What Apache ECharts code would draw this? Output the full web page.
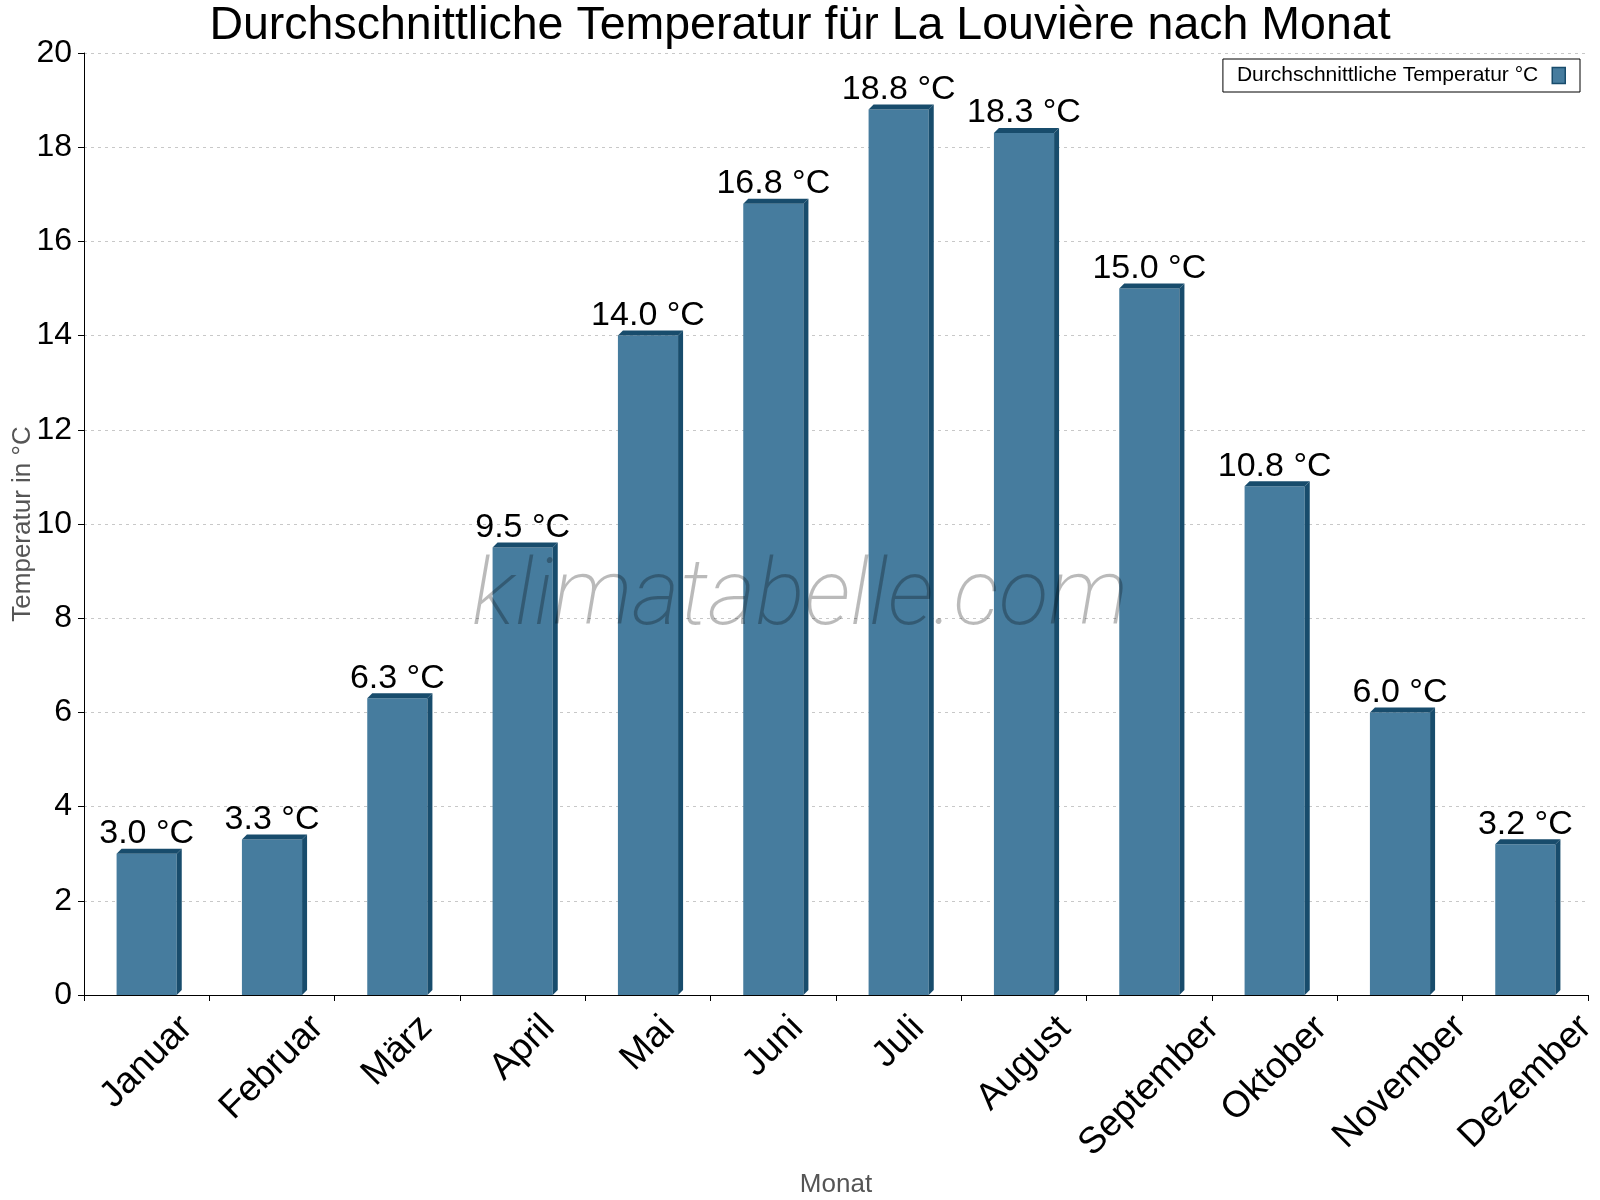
<!DOCTYPE html>
<html>
<head>
<meta charset="utf-8">
<script src="https://cdn.jsdelivr.net/npm/echarts@6/dist/echarts.min.js"></script>
<style>
  html, body { margin: 0; padding: 0; background: #ffffff; }
  #chart { width: 1600px; height: 1200px; }
</style>
</head>
<body>
<div id="chart"></div>
<script>
const chartTitle = 'Durchschnittliche Temperatur für La Louvière nach Monat';
const seriesName = 'Durchschnittliche Temperatur °C';
const months = ['Januar', 'Februar', 'März', 'April', 'Mai', 'Juni', 'Juli', 'August', 'September', 'Oktober', 'November', 'Dezember'];
const temperatures = [3.0, 3.3, 6.3, 9.5, 14.0, 16.8, 18.8, 18.3, 15.0, 10.8, 6.0, 3.2];
const yTicks = [0, 2, 4, 6, 8, 10, 12, 14, 16, 18, 20];
const xAxisName = 'Monat';
const yAxisName = 'Temperatur in °C';
const watermark = 'klimatabelle.com';

const FONT = '"Liberation Sans", Arial, sans-serif';
const FRONT = '#467c9e';
const DARK = '#184c6c';
const DEPTH = 5;
const XLABEL_SIZE = 37;

// measure label widths so each rotated label is centred under its category
const cv = document.createElement('canvas').getContext('2d');
cv.font = XLABEL_SIZE + 'px "Liberation Sans", Arial, sans-serif';
const xData = months.map(m => {
  const L = cv.measureText(m).width;
  const h = XLABEL_SIZE;
  const pt = Math.max(0, Math.round((L - h) / 4));
  const pr = Math.round(2 * pt + h);
  return { value: m, textStyle: { align: 'center', verticalAlign: 'top', padding: [pt, pr, 0, 0] } };
});

const chart = echarts.init(document.getElementById('chart'), null, { renderer: 'canvas' });

const option = {
  animation: false,
  backgroundColor: '#ffffff',
  title: {
    text: chartTitle,
    left: 'center',
    top: -2,
    textStyle: { fontFamily: FONT, fontSize: 46.5, fontWeight: 'normal', color: '#000' }
  },
  legend: {
    right: 20,
    top: 59,
    align: 'right',
    padding: [6, 14],
    borderColor: '#000',
    borderWidth: 1,
    itemWidth: 13,
    itemHeight: 16,
    textStyle: { fontFamily: FONT, fontSize: 21, color: '#000', padding: [0, 9, 0, 0] },
    data: [{ name: seriesName, icon: 'rect', itemStyle: { color: FRONT, borderColor: DARK, borderWidth: 1.5 } }]
  },
  grid: { left: 84, right: 12, top: 53, bottom: 205, containLabel: false, outerBoundsMode: 'none' },
  xAxis: {
    type: 'category',
    data: xData,
    boundaryGap: true,
    name: xAxisName,
    nameLocation: 'middle',
    nameGap: 177,
    nameMoveOverlap: false,
    nameTextStyle: { fontFamily: FONT, fontSize: 26, color: '#555' },
    axisLine: { lineStyle: { color: '#000', width: 1 } },
    axisTick: { show: true, alignWithLabel: false, length: 6, lineStyle: { color: '#000' } },
    axisLabel: {
      interval: 0,
      rotate: 45,
      align: 'center',
      verticalAlign: 'top',
      margin: 14,
      fontFamily: FONT,
      fontSize: XLABEL_SIZE,
      color: '#000',
      hideOverlap: false
    },
    splitLine: { show: false }
  },
  yAxis: {
    type: 'value',
    min: yTicks[0],
    max: yTicks[yTicks.length - 1],
    interval: yTicks[1] - yTicks[0],
    name: yAxisName,
    nameLocation: 'middle',
    nameGap: 48,
    nameMoveOverlap: false,
    nameTextStyle: { fontFamily: FONT, fontSize: 26, color: '#555' },
    axisLine: { show: true, lineStyle: { color: '#000', width: 1 } },
    axisTick: { show: true, length: 6, lineStyle: { color: '#000' } },
    axisLabel: { margin: 12, fontFamily: FONT, fontSize: 32, color: '#000' },
    splitLine: { show: true, lineStyle: { color: '#c8c8c8', type: [3, 4], width: 1 } }
  },
  graphic: [{
    type: 'text',
    left: 'center',
    top: 555,
    z: 100,
    silent: true,
    style: {
      text: watermark,
      font: 'italic 200 92px Roboto, "Open Sans", sans-serif',
      fill: 'rgba(0,0,0,0.27)'
    }
  }],
  series: [{
    name: seriesName,
    type: 'custom',
    itemStyle: { color: FRONT },
    encode: { x: 0, y: 1 },
    data: temperatures.map((v, i) => [i, v]),
    renderItem: function (params, api) {
      const cat = api.value(0);
      const v = api.value(1);
      const top = api.coord([cat, v]);
      const base = api.coord([cat, 0]);
      const bw = api.size([1, 0])[0] * 0.48;
      const x0 = top[0] - bw / 2;
      const x1 = top[0] + bw / 2;
      const yt = top[1];
      const yb = base[1];
      return {
        type: 'group',
        children: [
          { type: 'rect', shape: { x: x0, y: yt, width: bw, height: yb - yt }, style: { fill: FRONT } },
          { type: 'polygon', shape: { points: [[x1, yt], [x1 + DEPTH, yt - DEPTH], [x1 + DEPTH, yb - DEPTH], [x1, yb]] }, style: { fill: DARK } },
          { type: 'polygon', shape: { points: [[x0, yt], [x0 + DEPTH, yt - DEPTH], [x1 + DEPTH, yt - DEPTH], [x1, yt]] }, style: { fill: DARK } },
          { type: 'text', style: { text: v.toFixed(1) + ' °C', x: top[0], y: yt - 3, align: 'center', verticalAlign: 'bottom', font: '34px "Liberation Sans", Arial, sans-serif', fill: '#000' } }
        ]
      };
    }
  }]
};

chart.setOption(option);
</script>
</body>
</html>
